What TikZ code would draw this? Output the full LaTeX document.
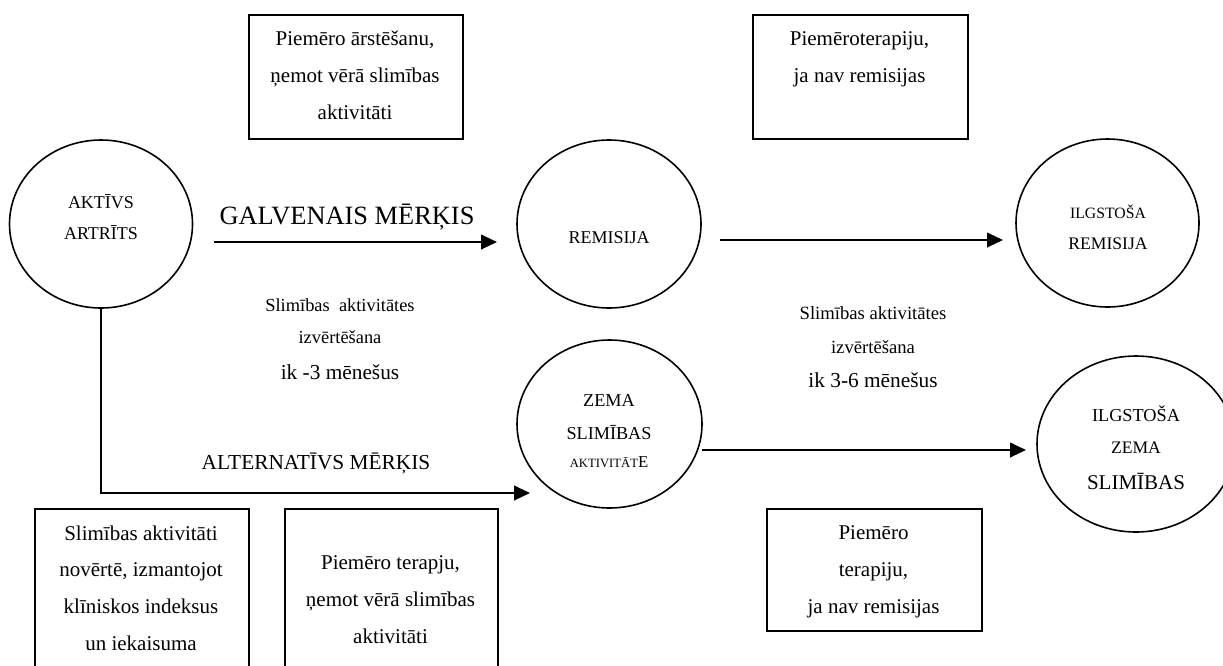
\documentclass[tikz,border=0pt]{standalone}
\usepackage{fontspec}
\setmainfont{Liberation Serif}
\usetikzlibrary{shapes.geometric,arrows.meta}
\newcommand\myfs[2]{\fontsize{#1}{#2}\selectfont}
\begin{document}
\begin{tikzpicture}[x=0.75pt,y=-0.75pt,
  boxnode/.style={draw,line width=1.2pt,rectangle,inner sep=0pt,anchor=north west},
  oval/.style={draw,ellipse,line width=1.2pt,inner sep=0pt},
  txt/.style={align=center,inner sep=0pt,anchor=base},
  boxtxt/.style={txt,font=\myfs{15.75}{27.4}},
  arr/.style={line width=1.5pt,-{Triangle[length=12pt,width=11pt]}},
]
\path[use as bounding box] (0,0) rectangle (1223,665);
\clip (0,0) rectangle (1223,665);

% boxes
\node[boxnode,minimum width=160.5pt,minimum height=93pt] (boxA) at (248,14) {};
\node[boxnode,minimum width=161.25pt,minimum height=93pt] (boxB) at (752,14) {};
\node[boxnode,minimum width=161.25pt,minimum height=91.5pt] (boxC) at (766,508) {};
\node[boxnode,minimum width=160.5pt,minimum height=150pt] (box1) at (34,508) {};
\node[boxnode,minimum width=159.75pt,minimum height=150pt] (box2) at (284,508) {};

% (base anchor = baseline of the last line)
\node[boxtxt] (tA) at (355,119) {Piemēro ārstēšanu,\\ņemot vērā slimības\\aktivitāti};
\node[boxtxt] (tB) at (859.5,82) {Piemēroterapiju,\\ja nav remisijas};
\node[boxtxt] (tC) at (873.5,613) {Piemēro\\terapiju,\\ja nav remisijas};
\node[boxtxt] (t1) at (141,650) {Slimības aktivitāti\\novērtē, izmantojot\\klīniskos indeksus\\un iekaisuma};
\node[boxtxt] (t2) at (390.5,643) {Piemēro terapju,\\ņemot vērā slimības\\aktivitāti};

% circles
\node[oval,minimum width=137.25pt,minimum height=126pt] (akt) at (101,224) {};
\node[oval,minimum width=138pt,minimum height=126pt] (rem) at (609,224) {};
\node[oval,minimum width=137.25pt,minimum height=126pt] (ilgrem) at (1107.5,223) {};
\node[oval,minimum width=138.75pt,minimum height=126pt] (zema) at (609.5,424) {};
\node[oval,minimum width=148.5pt,minimum height=132pt] (ilgzema) at (1136,444) {};

\node[txt,font=\myfs{13.5}{23.25}] (aktt) at (101,239) {AKTĪVS\\ARTRĪTS};
\node[txt,font=\myfs{13.5}{16}] (remt) at (609,243) {REMISIJA};
\node[txt,font=\myfs{11.8}{14}] (ilgremt1) at (1108,218) {ILGSTOŠA};
\node[txt,font=\myfs{13.2}{16}] (ilgremt2) at (1108,249) {REMISIJA};
\node[txt,font=\myfs{13.65}{24.75}] (zemat1) at (609,439) {ZEMA\\SLIMĪBAS};
\node[txt] (zemat2) at (609,467) {{\myfs{9.5}{11}AKTIVITĀT}{\myfs{12.5}{14}E}};
\node[txt,font=\myfs{13.7}{16}] (ilgzt1) at (1136,421) {ILGSTOŠA};
\node[txt,font=\myfs{13.2}{16}] (ilgzt2) at (1136,453) {ZEMA};
\node[txt,font=\myfs{15.75}{18}] (ilgzt3) at (1136,489) {SLIMĪBAS};

% labels
\node[txt,font=\myfs{19.8}{22}] (galv) at (347,224) {GALVENAIS MĒRĶIS};
\node[txt,font=\myfs{16}{18}] (alt) at (316,469) {ALTERNATĪVS MĒRĶIS};
\node[txt,font=\myfs{13.8}{24}] (ev1) at (340,343) {Slimības\ \ aktivitātes\\izvērtēšana};
\node[txt,font=\myfs{16}{18}] (ev1b) at (340,379) {ik -3 mēnešus};
\node[txt,font=\myfs{14}{25.5}] (ev2) at (873,353) {Slimības aktivitātes\\izvērtēšana};
\node[txt,font=\myfs{16}{18}] (ev2b) at (873,387) {ik 3-6 mēnešus};

% connectors
\coordinate (g0) at (214,242);
\coordinate (g1) at (497,242);
\coordinate (r0) at (720,240);
\coordinate (r1) at (1003,240);
\coordinate (z0) at (702,450);
\coordinate (z1) at (1026,450);
\coordinate (a1) at (530,493);
\draw[arr] (g0) -- (g1);
\draw[arr] (r0) -- (r1);
\draw[arr] (z0) -- (z1);
\draw[arr] (akt.south) |- (a1);
\end{tikzpicture}
\end{document}
